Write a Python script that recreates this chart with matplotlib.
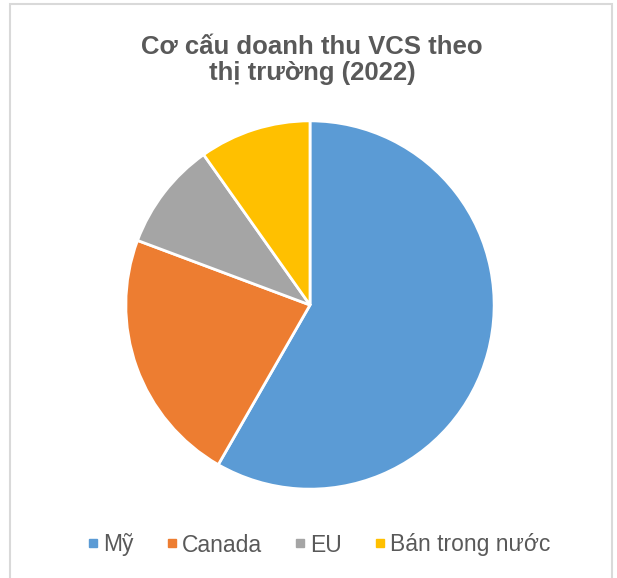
import matplotlib.pyplot as plt
from matplotlib.lines import Line2D
from matplotlib.patches import Rectangle

plt.rcParams['font.family'] = ['Liberation Sans', 'DejaVu Sans']

# du lieu
labels = ['Mỹ', 'Canada', 'EU', 'Bán trong nước']
values = [58.3, 22.4, 9.5, 9.8]
colors = ['#5B9BD5', '#ED7D31', '#A5A5A5', '#FFC000']

W, H = 617, 578
fig = plt.figure(figsize=(W / 100, H / 100), dpi=100)

# khung vien
fig.patches.append(Rectangle((10 / W, -0.01), 602 / W, 1 - 4 / H + 0.01,
                             transform=fig.transFigure, fill=False,
                             edgecolor='#D9D9D9', linewidth=1.5))

cx, cy, r = 310, 305, 186
ax = fig.add_axes([(cx - r) / W, (H - cy - r) / H, 2 * r / W, 2 * r / H])
ax.pie(values, colors=colors, startangle=90, counterclock=False,
       wedgeprops=dict(edgecolor='white', linewidth=2), radius=1)
ax.set_xlim(-1.01, 1.01)
ax.set_ylim(-1.01, 1.01)
ax.set_aspect('equal')
ax.axis('off')

fig.text(312 / W, 1 - 60 / H, 'Cơ cấu doanh thu VCS theo\nthị trường (2022)',
         ha='center', va='center', fontsize=18.5, fontweight='bold',
         color='#595959', linespacing=1.12)

handles = [Line2D([], [], marker='s', linestyle='', markersize=6,
                  markerfacecolor=c, markeredgecolor=c) for c in colors]
fig.legend(handles, labels, loc='center', bbox_to_anchor=(318 / W, 1 - 545 / H),
           ncol=4, frameon=False, fontsize=16.5, handletextpad=0.1,
           columnspacing=1.3, handlelength=0.7, labelcolor='#595959')

plt.savefig('out.png', dpi=100)
